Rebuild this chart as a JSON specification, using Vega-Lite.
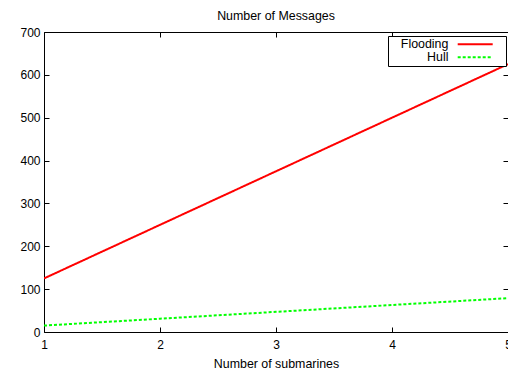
{
  "$schema": "https://vega.github.io/schema/vega-lite/v6.json",
  "autosize": {"type": "none"},
  "padding": {"left": 44, "top": 32, "right": 0, "bottom": 42},
  "width": 464,
  "height": 300,
  "background": "white",
  "config": {
    "font": "Liberation Sans",
    "view": {"stroke": "black", "strokeWidth": 1},
    "axis": {"grid": false, "domain": false, "labelFont": "Liberation Sans", "labelFontSize": 12, "labelColor": "#000", "tickColor": "#000", "tickSize": -5, "tickWidth": 1, "titleFont": "Liberation Sans", "titleFontSize": 12.4, "titleFontWeight": "normal", "titleColor": "#000"}
  },
  "title": {"text": "Number of Messages", "fontSize": 12.4, "fontWeight": "normal", "font": "Liberation Sans", "color": "#000", "anchor": "middle", "offset": 4},
  "data": {"values": [
    {"n": 1, "series": "Flooding", "value": 125},
    {"n": 2, "series": "Flooding", "value": 250},
    {"n": 3, "series": "Flooding", "value": 375},
    {"n": 4, "series": "Flooding", "value": 500},
    {"n": 5, "series": "Flooding", "value": 625},
    {"n": 1, "series": "Hull", "value": 15},
    {"n": 2, "series": "Hull", "value": 31},
    {"n": 3, "series": "Hull", "value": 47},
    {"n": 4, "series": "Hull", "value": 63},
    {"n": 5, "series": "Hull", "value": 79}
  ]},
  "layer": [
    {
      "mark": {"type": "line", "strokeWidth": 2, "clip": true},
      "encoding": {
        "x": {"field": "n", "type": "quantitative", "scale": {"domain": [1, 5], "nice": false, "zero": false},
              "axis": {"values": [1, 2, 3, 4, 5], "format": "d", "title": "Number of submarines", "labelPadding": 12, "titlePadding": 7, "labelFlush": false}},
        "y": {"field": "value", "type": "quantitative", "scale": {"domain": [0, 700], "nice": false},
              "axis": {"values": [0, 100, 200, 300, 400, 500, 600, 700], "title": null, "labelPadding": 9}},
        "color": {"field": "series", "type": "nominal", "scale": {"domain": ["Flooding", "Hull"], "range": ["#ff0000", "#00ff00"]},
                  "legend": {"title": null, "orient": "none", "legendX": 344, "legendY": 4, "symbolType": "M-8.75,0H8.75M12,0", "symbolSize": 16, "symbolStrokeWidth": 2, "symbolOffset": 79, "labelAlign": "right", "labelOffset": -33, "labelFontSize": 12.4, "labelFont": "Liberation Sans", "labelColor": "#000", "strokeColor": "#000", "padding": 2, "rowPadding": -1, "cornerRadius": 0, "fillColor": "white"}},
        "strokeDash": {"field": "series", "type": "nominal", "scale": {"domain": ["Flooding", "Hull"], "range": [[1, 0], [3, 2]]},
                  "legend": {"title": null, "orient": "none", "legendX": 344, "legendY": 4, "symbolType": "M-8.75,0H8.75M12,0", "symbolSize": 16, "symbolStrokeWidth": 2, "symbolOffset": 79, "labelAlign": "right", "labelOffset": -33, "labelFontSize": 12.4, "labelFont": "Liberation Sans", "labelColor": "#000", "strokeColor": "#000", "padding": 2, "rowPadding": -1, "cornerRadius": 0, "fillColor": "white"}}
      }
    },
    {
      "mark": {"type": "line", "opacity": 0},
      "encoding": {
        "x": {"field": "n", "type": "quantitative", "axis": {"orient": "top", "values": [1, 2, 3, 4, 5], "labels": false, "title": null}},
        "y": {"field": "value", "type": "quantitative", "axis": {"orient": "right", "values": [0, 100, 200, 300, 400, 500, 600, 700], "labels": false, "title": null}}
      }
    }
  ],
  "resolve": {"axis": {"x": "independent", "y": "independent"}}
}
